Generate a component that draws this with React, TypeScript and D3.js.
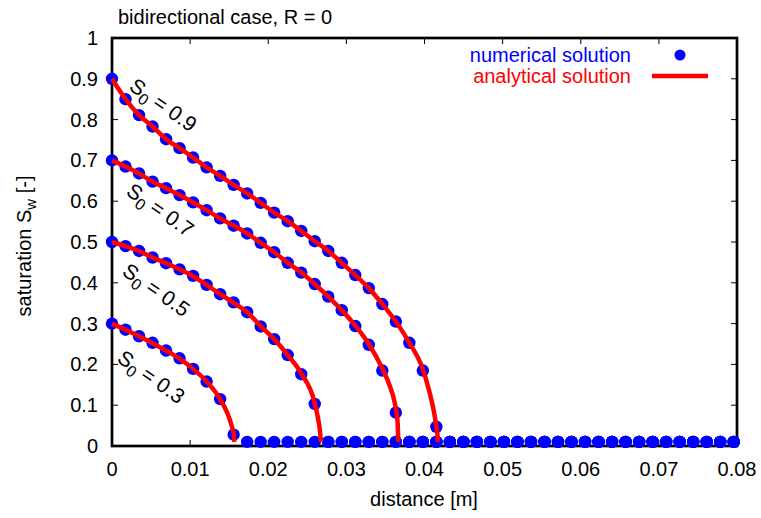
import React from 'react';
import * as d3 from 'd3';

// distance grid of the numerical solution [m]
const distance = [
  0, 0.00173, 0.00346, 0.00519, 0.00692, 0.00865, 0.01038, 0.01211, 0.01384, 0.01557,
  0.0173, 0.01903, 0.02076, 0.02249, 0.02422, 0.02595, 0.02768, 0.02941, 0.03114, 0.03287,
  0.0346, 0.03633, 0.03806, 0.03979, 0.04152, 0.04325, 0.04498, 0.04671, 0.04844, 0.05017,
  0.0519, 0.05363, 0.05536, 0.05709, 0.05882, 0.06055, 0.06228, 0.06401, 0.06574, 0.06747,
  0.0692, 0.07093, 0.07266, 0.07439, 0.07612, 0.07785, 0.07958,
];

// numerical saturation values
const numS03 = [
  0.300, 0.285, 0.269, 0.253, 0.234, 0.215, 0.189, 0.158, 0.115, 0.028,
  0.01, 0.01, 0.01, 0.01, 0.01, 0.01, 0.01, 0.01, 0.01, 0.01,
  0.01, 0.01, 0.01, 0.01, 0.01, 0.01, 0.01, 0.01, 0.01, 0.01,
  0.01, 0.01, 0.01, 0.01, 0.01, 0.01, 0.01, 0.01, 0.01, 0.01,
  0.01, 0.01, 0.01, 0.01, 0.01, 0.01, 0.01,
];
const numS05 = [
  0.500, 0.490, 0.478, 0.462, 0.448, 0.433, 0.417, 0.395, 0.372, 0.352,
  0.328, 0.293, 0.262, 0.223, 0.176, 0.103, 0.01, 0.01, 0.01, 0.01,
  0.01, 0.01, 0.01, 0.01, 0.01, 0.01, 0.01, 0.01, 0.01, 0.01,
  0.01, 0.01, 0.01, 0.01, 0.01, 0.01, 0.01, 0.01, 0.01, 0.01,
  0.01, 0.01, 0.01, 0.01, 0.01, 0.01, 0.01,
];
const numS07 = [
  0.700, 0.685, 0.668, 0.648, 0.632, 0.615, 0.597, 0.578, 0.558, 0.540,
  0.521, 0.498, 0.475, 0.449, 0.425, 0.397, 0.366, 0.333, 0.294, 0.248,
  0.185, 0.082, 0.01, 0.01, 0.01, 0.01, 0.01, 0.01, 0.01, 0.01,
  0.01, 0.01, 0.01, 0.01, 0.01, 0.01, 0.01, 0.01, 0.01, 0.01,
  0.01, 0.01, 0.01, 0.01, 0.01, 0.01, 0.01,
];
const numS09 = [
  0.900, 0.850, 0.811, 0.783, 0.752, 0.730, 0.707, 0.683, 0.662, 0.640,
  0.619, 0.596, 0.572, 0.551, 0.527, 0.502, 0.478, 0.449, 0.419, 0.387,
  0.348, 0.305, 0.253, 0.185, 0.047, 0.01, 0.01, 0.01, 0.01, 0.01,
  0.01, 0.01, 0.01, 0.01, 0.01, 0.01, 0.01, 0.01, 0.01, 0.01,
  0.01, 0.01, 0.01, 0.01, 0.01, 0.01, 0.01,
];

// analytical solution
const anaX03 = [0, 0.00173, 0.00346, 0.00519, 0.00692, 0.00865, 0.01038, 0.01211, 0.01384, 0.0148, 0.0153, 0.0156, 0.01566];
const anaS03 = [0.300, 0.285, 0.269, 0.252, 0.234, 0.214, 0.189, 0.158, 0.115, 0.079, 0.051, 0.025, 0.01];

const anaX05 = [0, 0.00173, 0.00346, 0.00519, 0.00692, 0.00865, 0.01038, 0.01211, 0.01384, 0.01557, 0.0173, 0.01903, 0.02076, 0.02249, 0.02422, 0.02595, 0.0264, 0.0266, 0.02675];
const anaS05 = [0.500, 0.490, 0.478, 0.462, 0.448, 0.433, 0.416, 0.395, 0.372, 0.351, 0.328, 0.294, 0.262, 0.223, 0.178, 0.105, 0.065, 0.040, 0.01];

const anaX07 = [0, 0.00173, 0.00346, 0.00519, 0.00692, 0.00865, 0.01038, 0.01211, 0.01384, 0.01557, 0.0173, 0.01903, 0.02076, 0.02249, 0.02422, 0.02595, 0.02768, 0.02941, 0.03114, 0.03287, 0.0346, 0.0355, 0.0362, 0.03655, 0.03665];
const anaS07 = [0.700, 0.685, 0.668, 0.648, 0.632, 0.615, 0.597, 0.578, 0.558, 0.540, 0.521, 0.498, 0.475, 0.449, 0.425, 0.397, 0.366, 0.333, 0.295, 0.250, 0.190, 0.150, 0.105, 0.060, 0.01];

const anaX09 = [0, 0.0008, 0.00173, 0.00346, 0.00519, 0.00692, 0.00865, 0.01038, 0.01211, 0.01384, 0.01557, 0.0173, 0.01903, 0.02076, 0.02249, 0.02422, 0.02595, 0.02768, 0.02941, 0.03114, 0.03287, 0.0346, 0.03633, 0.03806, 0.03979, 0.0406, 0.0412, 0.0415, 0.04165, 0.0417];
const anaS09 = [0.900, 0.876, 0.850, 0.811, 0.783, 0.752, 0.730, 0.707, 0.683, 0.662, 0.640, 0.619, 0.596, 0.572, 0.551, 0.527, 0.502, 0.478, 0.449, 0.419, 0.387, 0.348, 0.305, 0.253, 0.188, 0.135, 0.085, 0.050, 0.030, 0.01];

const xTicks = [0, 0.01, 0.02, 0.03, 0.04, 0.05, 0.06, 0.07, 0.08];
const xTickLabels = ['0', '0.01', '0.02', '0.03', '0.04', '0.05', '0.06', '0.07', '0.08'];
const yTicks = [0, 0.1, 0.2, 0.3, 0.4, 0.5, 0.6, 0.7, 0.8, 0.9, 1];
const yTickLabels = ['0', '0.1', '0.2', '0.3', '0.4', '0.5', '0.6', '0.7', '0.8', '0.9', '1'];

const curveLabels = ['0.9', '0.7', '0.5', '0.3'];

const W = 761;
const H = 518;
const L = 112, R = 737, T = 38, B = 446;
const FONT = '"Liberation Sans", Arial, Helvetica, sans-serif';

export default function App() {
  const x = d3.scaleLinear().domain([0, 0.08]).range([L, R]);
  const y = d3.scaleLinear().domain([0, 1]).range([B, T]);

  const line = d3
    .line<[number, number]>()
    .x((d) => x(d[0]))
    .y((d) => y(d[1]))
    .curve(d3.curveMonotoneX);

  const numSeries = [numS03, numS05, numS07, numS09];
  const anaSeries: [number[], number[]][] = [
    [anaX03, anaS03],
    [anaX05, anaS05],
    [anaX07, anaS07],
    [anaX09, anaS09],
  ];
  // label anchor positions (pixel) for S0 labels
  const labelPos: [number, number][] = [
    [128, 89],
    [125, 194],
    [121, 274],
    [116, 361],
  ];

  const tickLen = 6;

  return (
    <div style={{ position: 'absolute', left: 0, top: 0 }}>
      <svg width={W} height={H} style={{ display: 'block', background: '#fff' }} fontFamily={FONT}>
        <rect x={0} y={0} width={W} height={H} fill="#fff" />
        {/* ticks */}
        {xTicks.map((t, i) => (
          <g key={'xt' + i}>
            <line x1={x(t)} x2={x(t)} y1={B} y2={B - tickLen} stroke="#000" strokeWidth={1} />
            <line x1={x(t)} x2={x(t)} y1={T} y2={T + tickLen} stroke="#000" strokeWidth={1} />
            <text x={x(t)} y={476} textAnchor="middle" fontSize={20} fill="#000">
              {xTickLabels[i]}
            </text>
          </g>
        ))}
        {yTicks.map((t, i) => (
          <g key={'yt' + i}>
            <line x1={L} x2={L + tickLen} y1={y(t)} y2={y(t)} stroke="#000" strokeWidth={1} />
            <line x1={R} x2={R - tickLen} y1={y(t)} y2={y(t)} stroke="#000" strokeWidth={1} />
            <text x={98} y={y(t) + 7} textAnchor="end" fontSize={20} fill="#000">
              {yTickLabels[i]}
            </text>
          </g>
        ))}
        <rect x={L} y={T} width={R - L} height={B - T} fill="none" stroke="#000" strokeWidth={2.7} />

        {/* numerical solution */}
        {numSeries.map((s, si) => (
          <g key={'n' + si}>
            {s.map((v, i) => (
              <circle key={i} cx={x(distance[i])} cy={y(v)} r={6.2} fill="#0000ff" />
            ))}
          </g>
        ))}

        {/* analytical solution */}
        {anaSeries.map(([xs, ss], si) => (
          <path
            key={'a' + si}
            d={line(xs.map((xv, i) => [xv, ss[i]] as [number, number])) || ''}
            fill="none"
            stroke="#ff0000"
            strokeWidth={4.5}
          />
        ))}

        {/* curve labels */}
        {curveLabels.map((lab, i) => (
          <text
            key={'cl' + i}
            transform={`translate(${labelPos[i][0]},${labelPos[i][1]}) rotate(35)`}
            fontSize={21}
            fill="#000"
          >
            <tspan>S</tspan>
            <tspan fontSize={16} dy={5}>0</tspan>
            <tspan dy={-5}>{' = ' + lab}</tspan>
          </text>
        ))}

        {/* title */}
        <text x={118} y={24} fontSize={20} fill="#000">
          bidirectional case, R = 0
        </text>

        {/* legend */}
        <text x={631} y={62} textAnchor="end" fontSize={20} fill="#0000ff">
          numerical solution
        </text>
        <circle cx={680} cy={55} r={5.5} fill="#0000ff" />
        <text x={631} y={83} textAnchor="end" fontSize={20} fill="#ff0000">
          analytical solution
        </text>
        <line x1={652} x2={708} y1={76} y2={76} stroke="#ff0000" strokeWidth={4.5} />

        {/* axis titles */}
        <text x={424} y={506} textAnchor="middle" fontSize={20} fill="#000">
          distance [m]
        </text>
        <text transform={`translate(31,246) rotate(-90)`} textAnchor="middle" fontSize={20} fill="#000">
          <tspan>saturation S</tspan>
          <tspan fontSize={15} dy={5}>w</tspan>
          <tspan dy={-5}>{' [-]'}</tspan>
        </text>
      </svg>
    </div>
  );
}
